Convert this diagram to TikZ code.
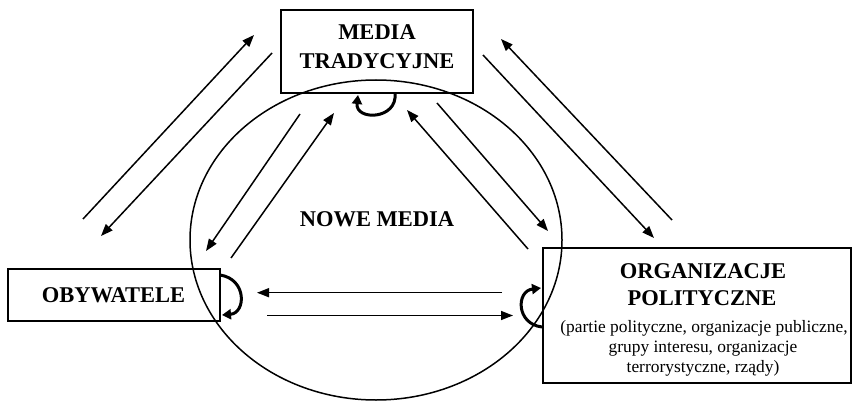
\documentclass[tikz,border=0pt]{standalone}
\usepackage{fontspec}
\setmainfont{Liberation Serif}
\usetikzlibrary{arrows.meta}
\begin{document}
\begin{tikzpicture}[x=1pt,y=-1pt,
  box/.style={draw, line width=2.2pt, inner sep=0pt},
  big/.style={font=\bfseries\fontsize{22.5}{27}\selectfont, inner sep=0pt, anchor=base},
  small/.style={font=\fontsize{17.4}{20}\selectfont, inner sep=0pt, anchor=base},
  arr/.style={line width=1.5pt, -{Triangle[length=12pt,width=9pt]}},
  cyc/.style={line width=3pt, -{Triangle[length=9pt,width=10pt]}}]
\useasboundingbox (0,0) rectangle (853,406);
% ellipse
\draw[line width=1.5pt] (376,240) ellipse [x radius=186pt, y radius=160pt];
% boxes
\node[box, minimum width=192pt, minimum height=83pt] (media) at (377,51.5) {};
\node[box, minimum width=212pt, minimum height=52pt] (oby) at (114,295) {};
\node[box, minimum width=308pt, minimum height=135pt] (org) at (697,315.5) {};
% texts
\node[big] (t1) at (377,40) {MEDIA};
\node[big] (t2) at (377,69) {TRADYCYJNE};
\node[big] (t3) at (113.5,302) {OBYWATELE};
\node[big] (t4) at (377,226.5) {NOWE MEDIA};
\node[big] (t5) at (703,278) {ORGANIZACJE};
\node[big] (t6) at (702,305) {POLITYCZNE};
\node[small] (t7) at (704,332) {(partie polityczne, organizacje publiczne,};
\node[small] (t8) at (703,352) {grupy interesu, organizacje};
\node[small] (t9) at (703,372) {terrorystyczne, rządy)};
% arrow end points
\coordinate (a1s) at (83,219);  \coordinate (a1e) at (254,35);
\coordinate (a2s) at (272,53);  \coordinate (a2e) at (101,236);
\coordinate (a3s) at (300,114); \coordinate (a3e) at (206,251);
\coordinate (a4s) at (231,258); \coordinate (a4e) at (334,113);
\coordinate (a5s) at (672,220); \coordinate (a5e) at (501,39);
\coordinate (a6s) at (483,55);  \coordinate (a6e) at (654,238);
\coordinate (a7s) at (528,249); \coordinate (a7e) at (407,110);
\coordinate (a8s) at (437,103); \coordinate (a8e) at (548,231);
\coordinate (a9s) at (502,292.7); \coordinate (a9e) at (257,292.7);
\coordinate (a10s) at (267,315.5); \coordinate (a10e) at (513,315.5);
\draw[arr] (a1s) -- (a1e);
\draw[arr] (a2s) -- (a2e);
\draw[arr] (a3s) -- (a3e);
\draw[arr] (a4s) -- (a4e);
\draw[arr] (a5s) -- (a5e);
\draw[arr] (a6s) -- (a6e);
\draw[arr] (a7s) -- (a7e);
\draw[arr] (a8s) -- (a8e);
\draw[arr] (a9s) -- (a9e);
\draw[arr] (a10s) -- (a10e);
% cycle arrows
\coordinate (c1s) at (395,93); \coordinate (c1e) at (358,95);
\draw[cyc] (c1s) .. controls (398,120) and (355,121) .. (c1e);
\coordinate (c2s) at (220,275); \coordinate (c2e) at (222,315);
\draw[cyc] (c2s) .. controls (247,279) and (246,313) .. (c2e);
\coordinate (c3s) at (542,327); \coordinate (c3e) at (541,288);
\draw[cyc] (c3s) .. controls (516,324) and (516,291) .. (c3e);
\end{tikzpicture}
\end{document}
